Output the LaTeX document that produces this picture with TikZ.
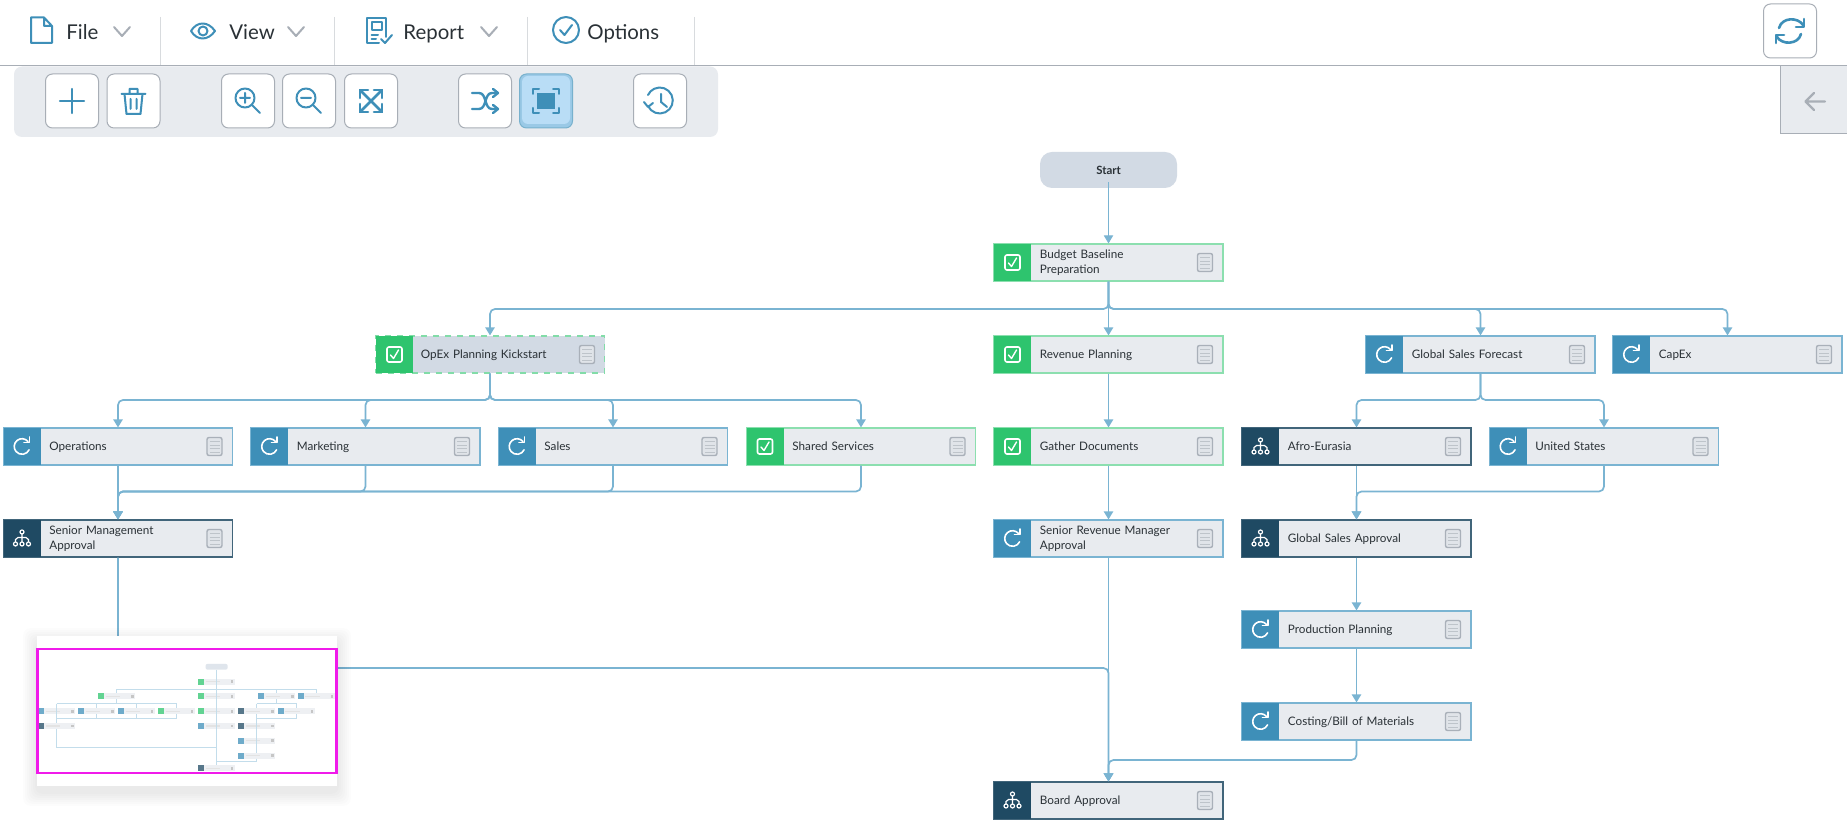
\documentclass[tikz,border=0pt]{standalone}
\usepackage{fontspec}
\setmainfont{Lato}
\usetikzlibrary{arrows.meta}
\definecolor{linkc}{HTML}{7AB4D2}
\definecolor{icoblue}{HTML}{3E8FB8}
\definecolor{navy}{HTML}{1F4A63}
\definecolor{grn}{HTML}{2EC46E}
\definecolor{boxfill}{HTML}{E8EBEF}
\definecolor{startfill}{HTML}{D2DAE4}
\definecolor{btnline}{HTML}{A8AEB6}
\definecolor{docline}{HTML}{A9B0B9}
\definecolor{txt}{HTML}{2A3136}
\definecolor{active}{HTML}{B9DDF6}
\definecolor{mag}{HTML}{F01BEA}
\tikzset{
  x=0.5pt,y=-0.5pt,
  boxbody/.style={draw,fill=boxfill,line width=.55pt,minimum width=114.5pt,minimum height=18.5pt,inner sep=0pt},
  bluebox/.style={boxbody,draw=linkc},
  greenbox/.style={boxbody,draw=grn!55!white},
  navybox/.style={boxbody,draw=navy!85!white},
  boxtext/.style={anchor=west,inner sep=0pt,align=left,text=txt,font=\fontsize{5.85}{7.2}\selectfont,execute at begin node=\strut,execute at end node=\strut},
  menutext/.style={anchor=base west,inner sep=0pt,text=txt,font=\fontsize{10.2}{12}\selectfont},
  link/.style={draw=linkc,line width=.85pt,rounded corners=2.5pt},
  arrowlink/.style={link,-{Triangle[length=4pt,width=4.6pt]}},
  btn/.style={draw=btnline,fill=white,line width=.5pt,rounded corners=3.5pt,minimum width=26.5pt,minimum height=27pt,inner sep=0pt},
  ico/.style={draw=icoblue,line width=1pt,line cap=round,line join=round},
  chev/.style={draw=btnline,line width=1pt,line cap=round,line join=round},
}
% icons, drawn around the current origin
\newcommand\icocheck{%
  \draw[white,line width=.8pt,rounded corners=1pt] (-7.5,-7.5) rectangle (7.5,7.5);
  \draw[white,line width=.7pt,line cap=round,line join=round] (-4,0.5) -- (-1,4) -- (4,-4.5);}
\newcommand\icorefresh{%
  \draw[white,line width=.8pt,line cap=round] (6,-5) arc[start angle=-40,end angle=-335,radius=7.8];
  \draw[white,line width=.8pt,line cap=round,line join=round] (7.5,-9.5) -- (7.5,-4) -- (2,-4);}
\newcommand\icoorg{%
  \draw[white,line width=.6pt] (0,-6.5) circle[radius=2] (0,-4.5) -- (0,3.5) (-6.5,3.5) -- (-6.5,1) to[out=-90,in=180] (-4,-1) -- (4,-1) to[out=0,in=-90] (6.5,1) -- (6.5,3.5);
  \draw[white,line width=.6pt] (-6.5,5.5) circle[radius=2] (0,5.5) circle[radius=2] (6.5,5.5) circle[radius=2];}
\newcommand\icodoc{%
  \draw[docline,line width=.7pt,rounded corners=1pt,fill=docline!12!boxfill] (-7.5,-9) rectangle (7.5,9);
  \draw[docline!75!white,line width=.4pt] (-5,-5) -- (5,-5) (-5,-1.5) -- (5,-1.5) (-5,2) -- (5,2) (-5,5.5) -- (5,5.5);}
% task box: name, left, top, style, icon colour, icon macro, text
\newcommand\taskbox[7]{%
  \node[#4] (#1) at ({#2+114.5},{#3+18.5}) {};
  \fill[#5] (#2,#3) rectangle ++(37,37);
  \begin{scope}[shift={({#2+18.5},{#3+18.5})}]#6\end{scope}
  \begin{scope}[shift={({#2+211},{#3+18.5})}]\icodoc\end{scope}
  \node[boxtext,text width=76pt] (#1-t) at ({#2+45.5},{#3+19.2}) {#7};
}
\begin{document}
\begin{tikzpicture}
\useasboundingbox (0,0) rectangle (1847,822);
\fill[white] (0,0) rectangle (1847,822);
% ---- menu bar
\draw[btnline,line width=.6pt] (0,65.5) -- (1847,65.5);
\foreach \sx in {160,334,527,694} \draw[btnline!45!white,line width=.4pt] (\sx,17) -- (\sx,65);
\node[menutext] (mfile) at (66,39.5) {File};
\node[menutext] (mview) at (229,39.5) {View};
\node[menutext] (mreport) at (403,39.5) {Report};
\node[menutext] (moptions) at (587,39.5) {Options};
\draw[ico] (31,17.5) -- (44,17.5) -- (52,26) -- (52,43) -- (31,43) -- cycle (44,17.5) -- (44,26) -- (52,26);
\draw[ico] (191,31) .. controls (197,21) and (208,21) .. (215,31) .. controls (208,41) and (197,41) .. (191,31);
\draw[ico] (203,31) circle[radius=4.5];
\draw[ico] (386,37) -- (386,18) -- (367,18) -- (367,43) -- (379,43) (371.5,22) rectangle (381.5,30) (371.5,35) -- (378,35) (371.5,39) -- (376,39);
\draw[ico] (381,39) -- (385,43) -- (392,35);
\draw[ico] (566,30) circle[radius=13];
\draw[ico] (560,30) -- (564.5,35) -- (572,25);
\foreach \cx in {122,296,489} \draw[chev] ({\cx-8},27) -- (\cx,36) -- ({\cx+8},27);
% ---- toolbar
\fill[boxfill,rounded corners=4pt] (14,66.5) rectangle (718,137);
\node[btn] (b1) at (72,101) {};
\node[btn] (b2) at (133.5,101) {};
\node[btn] (b3) at (248,101) {};
\node[btn] (b4) at (309,101) {};
\node[btn] (b5) at (371,101) {};
\node[btn] (b6) at (485,101) {};
\node[btn,fill=active!75!icoblue,draw=icoblue!70!white] (b7) at (546,101) {};
\fill[active,rounded corners=3pt] (522,76) rectangle (570,124);
\node[btn] (b8) at (660,101) {};
\begin{scope}[shift={(b1.center)}]\draw[ico,line width=1.1pt] (-12,0) -- (12,0) (0,-12) -- (0,12);\end{scope}
\begin{scope}[shift={(b2.center)}]
  \draw[ico] (-9,-7) -- (-7,13) -- (7,13) -- (9,-7) (-12,-7) -- (12,-7) (-4,-7) -- (-4,-12) -- (4,-12) -- (4,-7) (-3,-2) -- (-3,8) (3,-2) -- (3,8);
\end{scope}
\begin{scope}[shift={(b3.center)}]
  \draw[ico] (-3,-3) circle[radius=9.5] (4,4) -- (12,12) (-3,-8) -- (-3,2) (-8,-3) -- (2,-3);
\end{scope}
\begin{scope}[shift={(b4.center)}]
  \draw[ico] (-3,-3) circle[radius=9.5] (4,4) -- (12,12) (-8,-3) -- (2,-3);
\end{scope}
\begin{scope}[shift={(b5.center)}]
  \draw[ico,line width=1.3pt] (-11,-11) -- (11,11) (11,-11) -- (-11,11);
  \draw[ico,line width=1.3pt] (-11,-3) -- (-11,-11) -- (-3,-11) (3,-11) -- (11,-11) -- (11,-3) (11,3) -- (11,11) -- (3,11) (-3,11) -- (-11,11) -- (-11,3);
\end{scope}
\begin{scope}[shift={(b6.center)}]
  \draw[ico,line width=1.2pt] (-13,-8) -- (-6,-8) .. controls (2,-8) and (-1,8) .. (7,8) -- (12,8) (-13,8) -- (-6,8) .. controls (2,8) and (-1,-8) .. (7,-8) -- (12,-8);
  \draw[ico,line width=1.2pt] (8,-12) -- (13,-8) -- (8,-4) (8,4) -- (13,8) -- (8,12);
\end{scope}
\begin{scope}[shift={(b7.center)}]
  \fill[icoblue] (-9,-8) rectangle (9,8);
  \draw[ico] (-13,-7) -- (-13,-12) -- (-7,-12) (7,-12) -- (13,-12) -- (13,-7) (13,7) -- (13,12) -- (7,12) (-7,12) -- (-13,12) -- (-13,7);
\end{scope}
\begin{scope}[shift={(b8.center)}]
  \draw[ico] (-12,5) arc[start angle=155,end angle=-155,radius=13];
  \draw[ico] (-16,1) -- (-12,6) -- (-7,2);
  \draw[ico] (1,-7) -- (1,1) -- (7,6);
\end{scope}
% ---- refresh button and side tab
\node[btn] (brefresh) at (1790,31) {};
\begin{scope}[shift={(brefresh.center)}]
  \draw[ico,line width=1.3pt] (-11,-3) .. controls (-8,-14) and (8,-14) .. (13,-6);
  \draw[ico,line width=1.3pt] (11,3) .. controls (8,14) and (-8,14) .. (-13,6);
  \draw[ico,line width=1.3pt] (14,-12) -- (14,-4) -- (6,-4) (-14,12) -- (-14,4) -- (-6,4);
\end{scope}
\fill[boxfill] (1780,66) rectangle (1847,134);
\draw[btnline,line width=.5pt] (1847,134) -- (1780,134) -- (1780,66);
\draw[btnline,line width=1.2pt,line cap=round,line join=round] (1825,101.5) -- (1806,101.5) (1814,93) -- (1805.5,101.5) -- (1814,110);
% ---- start
\node[draw=none,fill=startfill,rounded corners=6pt,minimum width=68.5pt,minimum height=18pt,inner sep=0pt,text=txt,font=\bfseries\fontsize{5.7}{7}\selectfont] (start) at (1108.5,170) {Start};
% ---- boxes
\taskbox{budget}{994}{244}{greenbox}{grn}{\icocheck}{Budget Baseline\\Preparation}
\node[boxbody,draw=grn!60!white,dashed,fill=startfill] (opex) at (490,354.5) {};
\fill[grn] (376,336) rectangle ++(37,37);
\begin{scope}[shift={(394.5,354.5)}]\icocheck\end{scope}
\begin{scope}[shift={(587,354.5)}]\icodoc\end{scope}
\node[boxtext,text width=76pt] (opex-t) at (420.5,355.2) {OpEx Planning Kickstart};
\taskbox{revenue}{994}{336}{greenbox}{grn}{\icocheck}{Revenue Planning}
\taskbox{gsf}{1366}{336}{bluebox}{icoblue}{\icorefresh}{Global Sales Forecast}
\taskbox{capex}{1613}{336}{bluebox}{icoblue}{\icorefresh}{CapEx}
\taskbox{ops}{3.5}{428}{bluebox}{icoblue}{\icorefresh}{Operations}
\taskbox{mkt}{251}{428}{bluebox}{icoblue}{\icorefresh}{Marketing}
\taskbox{sales}{498.5}{428}{bluebox}{icoblue}{\icorefresh}{Sales}
\taskbox{shared}{746.5}{428}{greenbox}{grn}{\icocheck}{Shared Services}
\taskbox{gather}{994}{428}{greenbox}{grn}{\icocheck}{Gather Documents}
\taskbox{afro}{1242}{428}{navybox}{navy}{\icoorg}{Afro-Eurasia}
\taskbox{us}{1489.5}{428}{bluebox}{icoblue}{\icorefresh}{United States}
\taskbox{sma}{3.5}{520}{navybox}{navy}{\icoorg}{Senior Management\\Approval}
\taskbox{srm}{994}{520}{bluebox}{icoblue}{\icorefresh}{Senior Revenue Manager\\Approval}
\taskbox{gsa}{1242}{520}{navybox}{navy}{\icoorg}{Global Sales Approval}
\taskbox{prod}{1242}{611}{bluebox}{icoblue}{\icorefresh}{Production Planning}
\taskbox{cost}{1242}{703}{bluebox}{icoblue}{\icorefresh}{Costing/Bill of Materials}
\taskbox{board}{994}{782}{navybox}{navy}{\icoorg}{Board Approval}
% ---- bus levels
\coordinate (bustop) at (0,309);
\coordinate (busmid) at (0,400);
\coordinate (buslow) at (0,491.5);
\coordinate (busmini) at (0,668);
\coordinate (busbot) at (0,760);
% ---- connectors
\draw[arrowlink,line width=.55pt] ([yshift=3pt]start.south) -- (budget);
\draw[arrowlink] (budget) -- (revenue);
\draw[arrowlink] (budget.south) -- (budget.south |- bustop) -| (opex.north);
\draw[arrowlink] (budget.south) -- (budget.south |- bustop) -| (gsf.north);
\draw[arrowlink] (budget.south) -- (budget.south |- bustop) -| (capex.north);
\draw[arrowlink] (opex.south) -- (opex.south |- busmid) -| (ops.north);
\draw[arrowlink] (opex.south) -- (opex.south |- busmid) -| (mkt.north);
\draw[arrowlink] (opex.south) -- (opex.south |- busmid) -| (sales.north);
\draw[arrowlink] (opex.south) -- (opex.south |- busmid) -| (shared.north);
\draw[arrowlink] (ops) -- (sma);
\draw[arrowlink] (mkt.south) -- (mkt.south |- buslow) -| (sma.north);
\draw[arrowlink] (sales.south) -- (sales.south |- buslow) -| (sma.north);
\draw[arrowlink] (shared.south) -- (shared.south |- buslow) -| (sma.north);
\draw[arrowlink] (revenue) -- (gather);
\draw[arrowlink] (gather) -- (srm);
\draw[arrowlink] (gsf.south) -- (gsf.south |- busmid) -| (afro.north);
\draw[arrowlink] (gsf.south) -- (gsf.south |- busmid) -| (us.north);
\draw[arrowlink] (afro) -- (gsa);
\draw[arrowlink] (us.south) -- (us.south |- buslow) -| (gsa.north);
\draw[arrowlink] (gsa) -- (prod);
\draw[arrowlink] (prod) -- (cost);
\draw[arrowlink] (srm) -- (board);
\draw[arrowlink] (sma.south) -- (sma.south |- busmini) -| (board.north);
\draw[arrowlink] (cost.south) -- (cost.south |- busbot) -| (board.north);
% ---- minimap
\foreach \gr in {14,12,10,8,6,4,2}
  \fill[black,opacity=.011,rounded corners=4pt] ({37-\gr},{636-\gr+6}) rectangle ({337+\gr},{786+\gr+6});
\fill[white] (37,636) rectangle (337,786);
\begin{scope}[shift={(37.7,639.4)},x=0.0807pt,y=-0.0805pt]
  \fill[startfill!70!white,rounded corners=1pt] (1040,152) rectangle (1177,188);
  \foreach \bx/\by/\bc in {994/244/grn,376/336/grn,994/336/grn,1366/336/icoblue,1613/336/icoblue,
     3.5/428/icoblue,251/428/icoblue,498/428/icoblue,746/428/grn,994/428/grn,1242/428/navy,1489/428/icoblue,
     3.5/520/navy,994/520/icoblue,1242/520/navy,1242/611/icoblue,1242/703/icoblue,994/782/navy}{
    \fill[boxfill!75!white] (\bx,\by) rectangle ++(229,37);
    \fill[\bc!75!white] (\bx,\by) rectangle ++(37,37);
    \fill[gray!22!white] ({\bx+46},{\by+14}) rectangle ++(90,9);
    \fill[gray!45!white] ({\bx+203},{\by+10}) rectangle ++(16,17);
  }
  \draw[linkc!45!white,line width=.45pt]
    (1108.5,188) -- (1108.5,782) (490,309) -- (1727.5,309) (490,309) -- (490,336) (1480.5,309) -- (1480.5,336) (1727.5,309) -- (1727.5,336)
    (118,400) -- (860.5,400) (490,373) -- (490,400) (118,400) -- (118,520) (365.5,400) -- (365.5,428) (612.5,400) -- (612.5,428) (860.5,400) -- (860.5,428) (365.5,465) -- (365.5,491) (612.5,465) -- (612.5,491) (860.5,465) -- (860.5,491) (118,491) -- (860.5,491)
    (1356.5,400) -- (1603.5,400) (1480.5,373) -- (1480.5,400) (1356.5,400) -- (1356.5,428) (1603.5,400) -- (1603.5,428) (1356.5,465) -- (1356.5,703) (1603.5,465) -- (1603.5,491) (1356.5,491) -- (1603.5,491)
    (118,557) -- (118,668) -- (1108.5,668) (1356.5,740) -- (1356.5,760) -- (1108.5,760);
\end{scope}
\draw[mag,line width=1.4pt] (37.5,649) rectangle (336.5,773);
\end{tikzpicture}
\end{document}
